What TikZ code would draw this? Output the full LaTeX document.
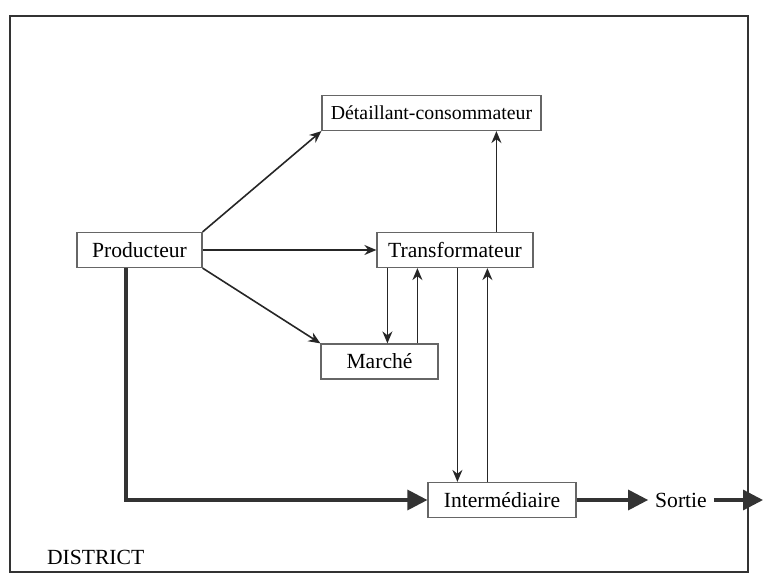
\documentclass[tikz,border=0pt]{standalone}
\usepackage{fontspec}
\setmainfont{Liberation Serif}
\usetikzlibrary{arrows.meta,positioning,calc}

\begin{document}
\begin{tikzpicture}[
  x=0.5pt,y=-0.5pt,
  font=\fontsize{10.8}{13}\selectfont,
  box/.style={draw=black!60,line width=0.6pt,inner sep=0pt,minimum height=17.5pt,align=center},
  arrow/.style={-{Stealth[length=6pt,width=5pt]},line width=0.8pt,black!85},
  bigarrow/.style={-{Triangle[length=10pt,width=10pt]},line width=1.6pt,black!80},
]
\useasboundingbox (0,0) rectangle (763,576);
\draw[line width=1pt,black!80] (10,16) rectangle (748,572);

\node[box,minimum width=109.5pt,font=\fontsize{9.9}{12}\selectfont] (det) at (431.5,113) {Détaillant-consommateur};
\node[box,minimum width=62.5pt] (prod) at (139.5,250) {Producteur};
\node[box,minimum width=78pt] (trans) at (455,250) {Transformateur};
\node[box,minimum width=58.5pt] (marche) at (379.5,361.5) {Marché};
\node[box,minimum width=74pt] (inter) at (502,500) {Intermédiaire};
\node (sortie) at (681,500) {Sortie};
\node[anchor=west] (district) at (40,557) {DISTRICT};
\coordinate (exit) at (763,500);

% liens depuis le producteur
\draw[arrow] (prod.north east) -- (det.south west);
\draw[arrow] (prod.east) -- (trans.west);
\draw[arrow] (prod.south east) -- (marche.north west);

% transformateur
\coordinate (t1) at ($(trans.south west)+(11,0)$);
\coordinate (t2) at ($(trans.south west)+(41,0)$);
\coordinate (t3) at ($(trans.south west)+(81,0)$);
\coordinate (t4) at ($(trans.south west)+(111,0)$);
\coordinate (t5) at ($(trans.north west)+(120,0)$);
\draw[arrow] (t1) -- (t1 |- marche.north);
\draw[arrow] (t2 |- marche.north) -- (t2);
\draw[arrow] (t3) -- (t3 |- inter.north);
\draw[arrow] (t4 |- inter.north) -- (t4);
\draw[arrow] (t5) -- (t5 |- det.south);

% circuit vers la sortie
\draw[bigarrow] ($(prod.south)+(-13.5,0)$) |- (inter.west);
\draw[bigarrow] (inter.east) -- (sortie.west);
\draw[bigarrow] (sortie.east) -- (exit);
\end{tikzpicture}
\end{document}
